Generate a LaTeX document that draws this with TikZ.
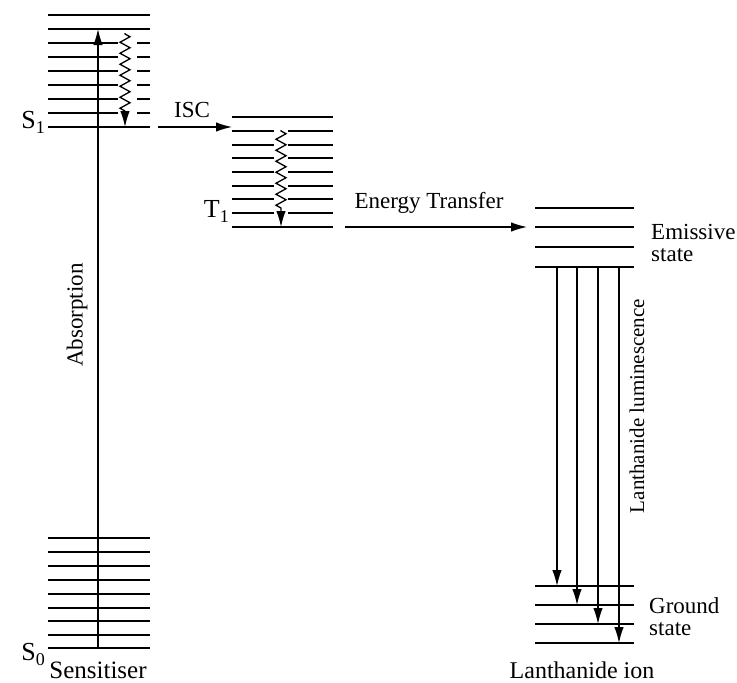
\documentclass[tikz,border=0pt]{standalone}
\usepackage{fontspec}
\setmainfont{Liberation Serif}
\usetikzlibrary{arrows.meta,decorations.pathmorphing}
\newcommand{\lvlsub}[2]{#1\raisebox{-5pt}{\fontsize{18}{18}\selectfont #2}}
\begin{document}
\begin{tikzpicture}[x=1pt,y=-1pt,
  level/.style={line width=1.7pt},
  arr/.style={line width=1.3pt,-{Latex[length=16pt,width=9.5pt]}},
  wavy/.style={line width=1.3pt,-{Latex[length=16pt,width=9.5pt]},decorate,
    decoration={zigzag,segment length=11pt,amplitude=5pt,pre length=1pt,post length=16pt}},
  lbl/.style={font=\fontsize{23}{22}\selectfont,inner sep=0pt}]
\useasboundingbox (0,0) rectangle (737,683);
% ---------- S1 stack
\foreach \y in {15,29,127} \draw[level] (48,\y) -- (150,\y);
\foreach \y in {43,57,71,85,99,113} {
  \draw[level] (48,\y) -- (118,\y);
  \draw[level] (137,\y) -- (150,\y);}
% ---------- S0 stack
\foreach \y in {538,552,566,580,594,608,621,635,648} \draw[level] (48,\y) -- (150,\y);
% ---------- T1 stack
\foreach \y in {117,227} \draw[level] (232,\y) -- (333,\y);
\foreach \y in {131,145,158,172,186,199,213} {
  \draw[level] (232,\y) -- (274,\y);
  \draw[level] (288,\y) -- (333,\y);}
% ---------- Emissive state
\foreach \y in {208,227,247,267} \draw[level] (535,\y) -- (634,\y);
% ---------- Ground state
\foreach \y in {586,605,624,643} \draw[level] (535,\y) -- (634,\y);

% ---------- coordinates
\coordinate (absA) at (98,648);
\coordinate (absB) at (98,29);
\coordinate (icA) at (125,33);
\coordinate (icB) at (125,127);
\coordinate (iscA) at (158,127);
\coordinate (iscB) at (232,127);
\coordinate (vrA) at (281,130);
\coordinate (vrB) at (281,227);
\coordinate (etA) at (345,227);
\coordinate (etB) at (527,227);
\foreach \i/\x/\y in {1/557/586,2/577/605,3/598/624,4/619/643} {
  \coordinate (emA\i) at (\x,267);
  \coordinate (emB\i) at (\x,\y);}

% ---------- arrows
\draw[arr] (absA) -- (absB);
\draw[wavy] (icA) -- (icB);
\draw[arr] (iscA) -- (iscB);
\draw[wavy] (vrA) -- (vrB);
\draw[arr] (etA) -- (etB);
\foreach \i in {1,2,3,4} \draw[arr] (emA\i) -- (emB\i);

% ---------- labels
\node[lbl,font=\fontsize{26}{26}\selectfont,anchor=east] (s1) at (45,122) {\lvlsub{S}{1}};
\node[lbl,font=\fontsize{26}{26}\selectfont,anchor=east] (s0) at (45,654) {\lvlsub{S}{0}};
\node[lbl,font=\fontsize{26}{26}\selectfont,anchor=east] (t1) at (229,211) {\lvlsub{T}{1}};
\node[lbl] (isc) at (192,110) {ISC};
\node[lbl] (et) at (429,203) {Energy Transfer};
\node[lbl,rotate=90] (abs) at (77,315) {Absorption};
\node[lbl,font=\fontsize{21}{21}\selectfont,rotate=90] (lum) at (637,406) {Lanthanide luminescence};
\node[lbl,anchor=west,align=left] (em) at (651,243) {Emissive\\state};
\node[lbl,anchor=west,align=left] (gs) at (649,617) {Ground\\state};
\node[lbl,font=\fontsize{25}{25}\selectfont] (sens) at (98,670) {Sensitiser};
\node[lbl,font=\fontsize{24}{24}\selectfont] (ln) at (582,670) {Lanthanide ion};
\end{tikzpicture}
\end{document}
